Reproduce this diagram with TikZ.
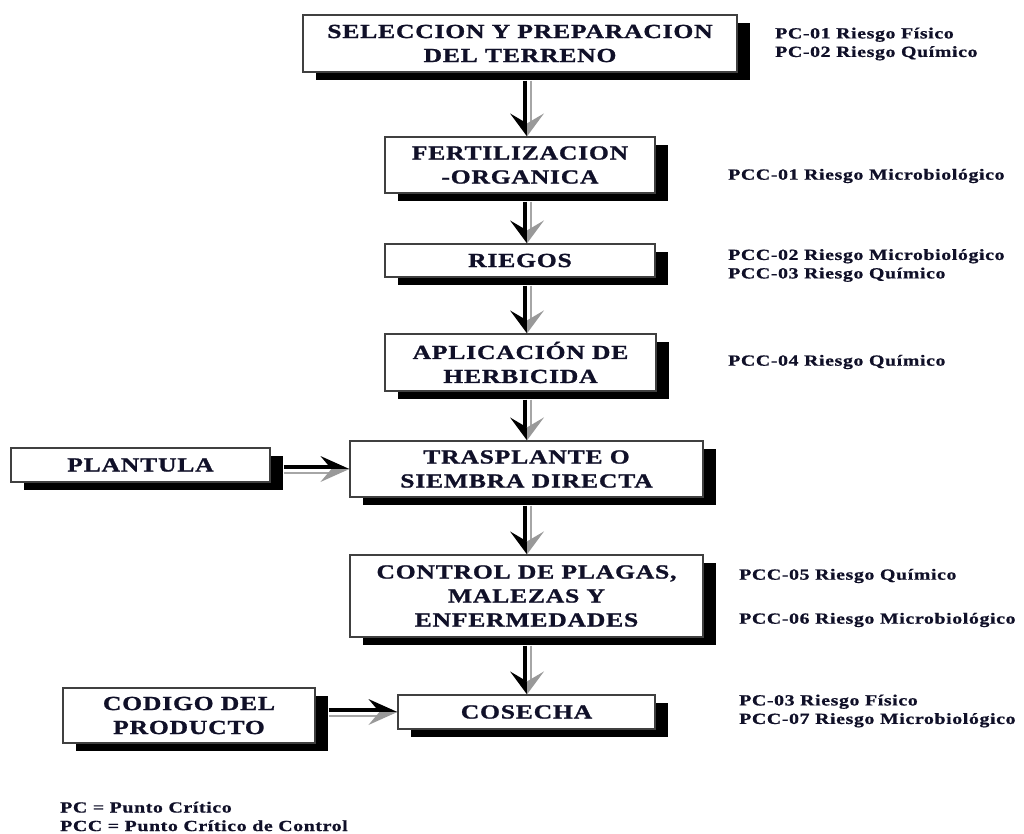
\documentclass[tikz,border=0pt]{standalone}
\usepackage{fontspec}
\setmainfont{Liberation Serif}
\newfontfamily\boxfont{Liberation Serif}[FakeStretch=1.28,LetterSpace=4,FakeBold=1.2]
\newfontfamily\lblfont{Liberation Serif}[FakeStretch=1.28,LetterSpace=4,FakeBold=0.8]
\usetikzlibrary{calc}
\definecolor{ink}{HTML}{101028}
\definecolor{edge}{HTML}{404040}
\tikzset{
  flowbox/.style={draw=edge, line width=1.2pt, fill=white, align=center, inner sep=0pt,
    text=ink, font=\boxfont\bfseries\fontsize{20}{24}\selectfont,
    preaction={fill=black, transform canvas={xshift=13pt,yshift=-8pt}}},
  lbl/.style={anchor=west, align=left, inner sep=0pt, text=ink,
    font=\lblfont\bfseries\fontsize{15.5}{18.5}\selectfont},
  shaftblack/.style={line width=3.2pt, black},
  shaftgray/.style={line width=2.4pt, gray!70},
}
\newcommand{\vflow}[2]{%
  \path (#1.south -| axis) ++(0,8) coordinate (vs) (#2.north -| axis) coordinate (ve);
  \draw[shaftblack] ($(vs)+(-2,0)$) -- ($(ve)+(-2,-13)$);
  \draw[shaftgray] ($(vs)+(4,0)$) -- ($(ve)+(4,-13)$);
  \fill[black] (ve) -- ++(-17,-23) -- ++(17,10) -- cycle;
  \fill[gray!80] (ve) -- ++(17,-23) -- ++(-17,10) -- cycle;
}
\newcommand{\hflow}[2]{%
  \path ($(#1.east)+(13,0)$) coordinate (hs0) (hs0 |- #2.west) coordinate (hs) (#2.west) coordinate (he);
  \draw[shaftblack] ($(hs)+(0,-2)$) -- ($(he)+(-13,-2)$);
  \draw[shaftgray] ($(hs)+(0,4)$) -- ($(he)+(-13,4)$);
  \fill[black] (he) -- ++(-29,-13) -- ++(11,13) -- cycle;
  \fill[gray!80] (he) -- ++(-29,13) -- ++(11,-13) -- cycle;
}
\begin{document}
\begin{tikzpicture}[x=1pt,y=-1pt]
\useasboundingbox[fill=white] (0,0) rectangle (1024,834);
\coordinate (axis) at (527,0);
% boxes: center, width, height
\node[flowbox, minimum width=434pt, minimum height=57pt] (b1) at (520,43.5) {SELECCION Y PREPARACION\\DEL TERRENO};
\node[flowbox, minimum width=270pt, minimum height=56pt] (b2) at (520,165) {FERTILIZACION\\-ORGANICA};
\node[flowbox, minimum width=270pt, minimum height=33pt] (b3) at (520,260.5) {RIEGOS};
\node[flowbox, minimum width=271pt, minimum height=57pt] (b4) at (520.5,362.5) {APLICACIÓN DE\\HERBICIDA};
\node[flowbox, minimum width=353pt, minimum height=56pt] (b5) at (526.5,469) {TRASPLANTE O\\SIEMBRA DIRECTA};
\node[flowbox, minimum width=353pt, minimum height=82pt] (b6) at (526.5,596) {CONTROL DE PLAGAS,\\MALEZAS Y\\ENFERMEDADES};
\node[flowbox, minimum width=257pt, minimum height=34pt] (b7) at (526.5,712) {COSECHA};
\node[flowbox, minimum width=259pt, minimum height=34pt] (pl) at (140.5,465) {PLANTULA};
\node[flowbox, minimum width=252pt, minimum height=55pt] (cd) at (189,715.5) {CODIGO DEL\\PRODUCTO};
% connectors
\vflow{b1}{b2}
\vflow{b2}{b3}
\vflow{b3}{b4}
\vflow{b4}{b5}
\vflow{b5}{b6}
\vflow{b6}{b7}
\hflow{pl}{b5}
\hflow{cd}{b7}
% labels
\node[lbl] (l1) at (775,44) {PC-01 Riesgo Físico\\PC-02 Riesgo Químico};
\node[lbl] (l2) at (728,176) {PCC-01 Riesgo Microbiológico};
\node[lbl] (l3) at (728,265.5) {PCC-02 Riesgo Microbiológico\\PCC-03 Riesgo Químico};
\node[lbl] (l4) at (728,362) {PCC-04 Riesgo Químico};
\node[lbl] (l5) at (739,576) {PCC-05 Riesgo Químico};
\node[lbl] (l6) at (739,620) {PCC-06 Riesgo Microbiológico};
\node[lbl] (l7) at (739,711) {PC-03 Riesgo Físico\\PCC-07 Riesgo Microbiológico};
\node[lbl] (lg) at (60,816.5) {PC = Punto Crítico\\PCC = Punto Crítico de Control};
\end{tikzpicture}
\end{document}
